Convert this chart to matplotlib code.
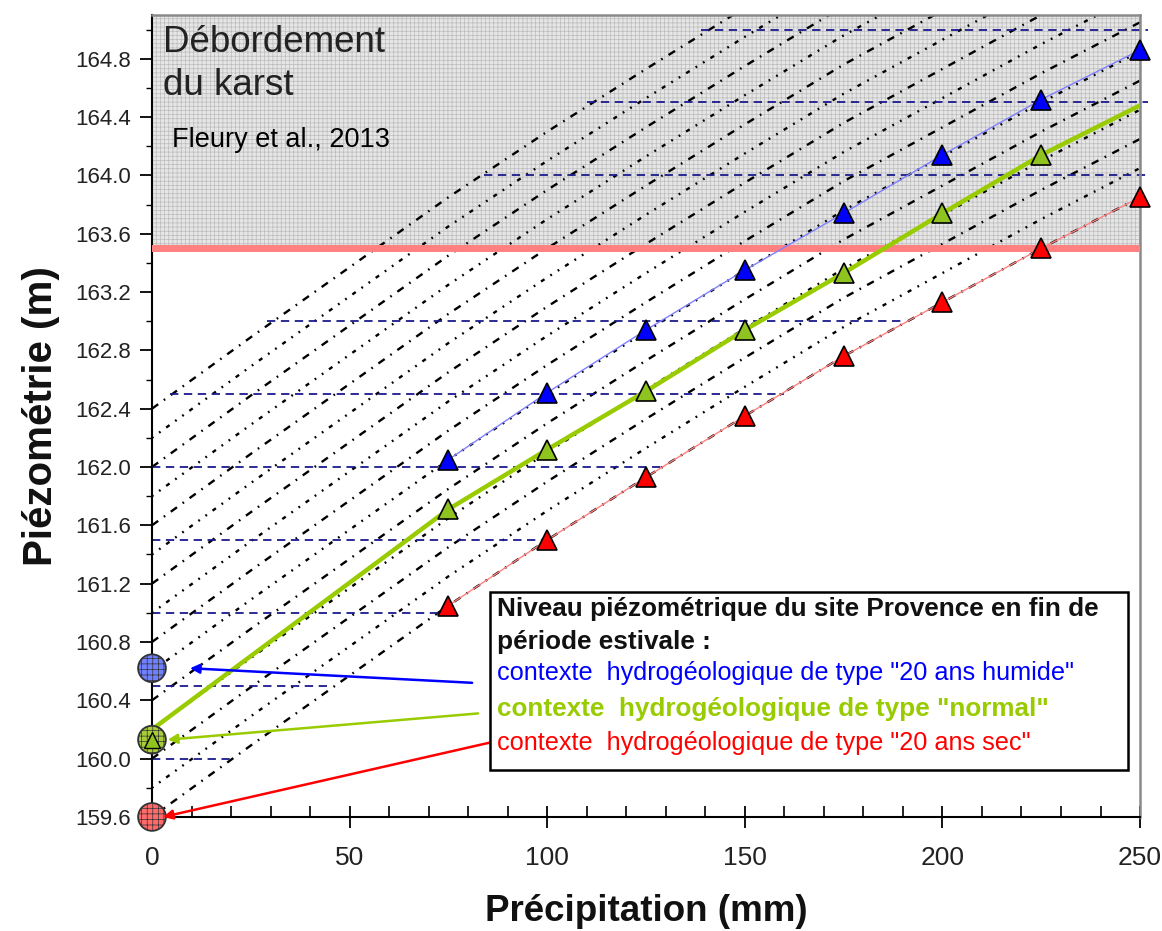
import matplotlib
matplotlib.use('Agg')
import matplotlib.pyplot as plt
import numpy as np
from matplotlib.patches import Rectangle
from matplotlib.ticker import MultipleLocator

plt.rcParams['font.family'] = ['Liberation Sans', 'DejaVu Sans']
plt.rcParams['hatch.linewidth'] = 0.5
plt.rcParams['lines.scale_dashes'] = False

# ---------------- data ----------------
precip = [75, 100, 125, 150, 175, 200, 225, 250]
blue_vals = [162.05, 162.51, 162.94, 163.35, 163.74, 164.14, 164.52, 164.86]
red_vals = [161.05, 161.50, 161.93, 162.35, 162.76, 163.13, 163.50, 163.85]
green_tri_x = [75, 100, 125, 150, 175, 200, 225]
green_tri_vals = [161.71, 162.12, 162.52, 162.94, 163.33, 163.74, 164.14]
green_line_x = [0, 75, 100, 125, 150, 175, 200, 225, 250]
green_line_y = [160.20, 161.71, 162.12, 162.52, 162.94, 163.33, 163.74, 164.14, 164.48]

start_vals = [160.62, 160.13, 159.60]   # humide, normal, sec at P = 0

# family of response curves (same shape, different initial levels)
curve_x = [0, 25, 50, 75, 100, 125, 150, 175, 200, 225, 250]
curve_rise = [0.0, 0.49, 0.97, 1.45, 1.90, 2.33, 2.75, 3.16, 3.53, 3.90, 4.25]
curve_starts = [159.6, 159.8, 160.0, 160.2, 160.4, 160.6, 160.8, 161.0,
                161.2, 161.4, 161.6, 161.8, 162.0, 162.2, 162.4]

hline_levels = [160.0, 160.5, 161.0, 161.5, 162.0, 162.5, 163.0, 164.0, 164.5, 165.0]
hline_x0 = [0, 0, 0, 0, 0, 4.5, 29, 84, 110, 139]
hline_x1 = [20, 45, 75, 100, 130, 160, 190, 252, 252, 252]

overflow_level = 163.5
y_top = 165.1

xticks = [0, 50, 100, 150, 200, 250]
yticks = [159.6, 160.0, 160.4, 160.8, 161.2, 161.6, 162.0, 162.4, 162.8,
          163.2, 163.6, 164.0, 164.4, 164.8]

BLUE = '#0000ff'
GREEN = '#99cc00'
RED = '#ff0000'

# ---------------- figure ----------------
fig = plt.figure(figsize=(11.62, 9.31), dpi=100)
ax = fig.add_axes([0.1308, 0.1225, 0.8503, 0.8614])
ax.set_xlim(0, 250)
ax.set_ylim(159.6, y_top)

# overflow zone
ax.fill_between([0, 250], overflow_level, y_top, facecolor='#e6e6e6',
                edgecolor='#bcbcbc', hatch='++++', linewidth=0, zorder=0)
ax.axhline(overflow_level, color='#ff8080', lw=5, zorder=3)

# black response curves
rise = np.array(curve_rise)
for i, s in enumerate(curve_starts):
    if i % 2 == 0:
        dsh = (5.5, 5, 1.2, 5)
    else:
        dsh = (1.3, 5, 1.3, 5, 3.0, 5)
    ax.plot(curve_x, s + rise, color='black', lw=1.7, dashes=dsh, zorder=2)

# horizontal dashed levels
for lvl, a, b in zip(hline_levels, hline_x0, hline_x1):
    ax.plot([a, b], [lvl, lvl], color='#1a1a8c', lw=1.3, dashes=(6, 4),
            zorder=2.5, clip_on=False)

# series
ax.plot(precip, blue_vals, color='#8080ff', lw=1, zorder=4)
ax.plot(precip, red_vals, color='#ff8080', lw=1, zorder=4)
ax.plot(green_line_x, green_line_y, color=GREEN, lw=3.2, zorder=4)

ax.plot(precip, blue_vals, ls='none', marker='^', ms=14, mfc=BLUE, mec='black',
        mew=1.2, zorder=7, clip_on=False)
ax.plot(green_tri_x, green_tri_vals, ls='none', marker='^', ms=14, mfc='#8fc31f',
        mec='black', mew=1.2, zorder=7, clip_on=False)
ax.plot(precip, red_vals, ls='none', marker='^', ms=14, mfc=RED, mec='black',
        mew=1.2, zorder=7, clip_on=False)

# starting circles
circ_cols = ['#7080ff', '#a8cc3a', '#ff6a6a']
for v, c in zip(start_vals, circ_cols):
    ax.scatter([0], [v], s=400, facecolor=c, edgecolor='#333333', hatch='+++',
               linewidth=1.3, zorder=8, clip_on=False)
ax.plot([0], [start_vals[1]], ls='none', marker='^', ms=11, mfc='#8fc31f',
        mec='black', mew=1, zorder=9, clip_on=False)

# spines / ticks
for sp in ['left', 'bottom']:
    ax.spines[sp].set_color('black')
    ax.spines[sp].set_linewidth(1.5)
for sp in ['top', 'right']:
    ax.spines[sp].set_color('#8a8a8a')
    ax.spines[sp].set_linewidth(1.8)

ax.set_xticks(xticks)
ax.set_xticklabels([str(t) for t in xticks])
ax.set_yticks(yticks)
ax.set_yticklabels([f'{t:.1f}' for t in yticks])
ax.xaxis.set_minor_locator(MultipleLocator(10))
ax.yaxis.set_minor_locator(MultipleLocator(0.2))
ax.tick_params(axis='x', which='major', direction='inout', length=16, width=1.3,
               labelsize=19, pad=13, colors='black', labelcolor='#222222')
ax.tick_params(axis='x', which='minor', direction='in', length=8, width=1.2)
ax.tick_params(axis='y', which='major', direction='out', length=9, width=1.3,
               labelsize=16, pad=6, labelcolor='#222222')
ax.tick_params(axis='y', which='minor', direction='out', length=4, width=1.0)
ax.tick_params(top=False, right=False, which='both')

ax.set_xlabel('Précipitation (mm)', fontsize=26.5, fontweight='bold', labelpad=17,
              color='#111111')
ax.set_ylabel('Piézométrie (m)', fontsize=29, fontweight='bold', labelpad=11,
              color='#111111')

# annotations
ax.text(0.011, 0.9875, 'Débordement\ndu karst', transform=ax.transAxes,
        fontsize=26.5, color='#222222', va='top', ha='left', linespacing=1.3,
        zorder=10)
ax.text(0.0202, 0.835, 'Fleury et al., 2013', transform=ax.transAxes,
        fontsize=19.5, color='black', va='baseline', ha='left', zorder=10)

# legend box
ax.add_patch(Rectangle((0.342, 0.0586), 0.646, 0.222, transform=ax.transAxes,
                       facecolor='white', edgecolor='black', lw=1.8, zorder=11))
tx = 0.349
ax.text(tx, 0.250, 'Niveau piézométrique du site Provence en fin de',
        transform=ax.transAxes, fontsize=18.8, fontweight='bold', color='#111111',
        va='baseline', zorder=12)
ax.text(tx, 0.210, 'période estivale :', transform=ax.transAxes, fontsize=18.8,
        fontweight='bold', color='#111111', va='baseline', zorder=12)
ax.text(tx, 0.171, 'contexte  hydrogéologique de type "20 ans humide"',
        transform=ax.transAxes, fontsize=18.2, color=BLUE, va='baseline', zorder=12)
ax.text(tx, 0.126, 'contexte  hydrogéologique de type "normal"',
        transform=ax.transAxes, fontsize=18.8, fontweight='bold', color=GREEN,
        va='baseline', zorder=12)
ax.text(tx, 0.084, 'contexte  hydrogéologique de type "20 ans sec"',
        transform=ax.transAxes, fontsize=18.2, color=RED, va='baseline', zorder=12)

# arrows
arrow_tips = [(9.6, 160.62), (4.0, 160.13), (2.8, 159.6)]
arrow_tails = [(81.0, 160.52), (82.5, 160.31), (85.5, 160.11)]
for tip, tail, c in zip(arrow_tips, arrow_tails, [BLUE, GREEN, RED]):
    ax.annotate('', xy=tip, xytext=tail,
                arrowprops=dict(arrowstyle='-|>', color=c, lw=1.8,
                                mutation_scale=14, shrinkA=0, shrinkB=0),
                zorder=9, annotation_clip=False)

fig.savefig('out.png', dpi=100)
